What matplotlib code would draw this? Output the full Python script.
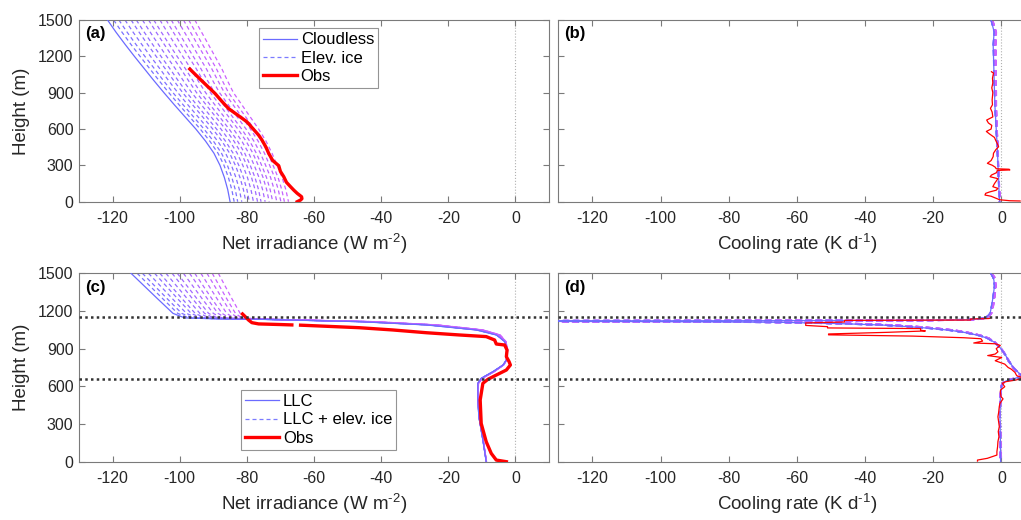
import numpy as np
import matplotlib
matplotlib.use("Agg")
import matplotlib.pyplot as plt
from matplotlib.lines import Line2D

plt.rcParams['font.family'] = ['Liberation Sans', 'DejaVu Sans']
plt.rcParams['axes.unicode_minus'] = False
plt.rcParams['mathtext.fontset'] = 'custom'
plt.rcParams['mathtext.rm'] = 'Liberation Sans'
plt.rcParams['mathtext.it'] = 'Liberation Sans:italic'
plt.rcParams['mathtext.bf'] = 'Liberation Sans:bold'

# ---------------- data ----------------
# panel (a)/(b): cloudless profile heights
h_clr = [1500, 1400, 1300, 1200, 1100, 1000, 900, 800, 700, 600, 500, 400, 300, 200, 100, 0]
net_clr = [-121.5, -119, -116.3, -113.5, -110.6, -107.7, -104.7, -101.6, -98.4, -95.2,
           -92.3, -89.8, -88, -86.7, -85.7, -85]
net_ice_max = [-95.5, -93.5, -91.5, -89.5, -87.5, -85.8, -84, -81.5, -79, -76.5,
               -74.3, -72.5, -71, -69.5, -68.4, -67.6]
cr_clr = [-3.0, -2.1, -2.4, -2.3, -2.2, -2.1, -2.0, -1.9, -1.7, -1.5, -1.3, -1.1, -1.0, -0.8, -0.7, -0.5]
cr_ice_max = [-2.6, -1.5, -1.6, -1.6, -1.6, -1.6, -1.5, -1.5, -1.4, -1.3, -1.1, -1.0, -0.9, -0.7, -0.6, -0.5]

# fraction of the elevated-ice spread for each dashed member
ice_fractions = [0.07, 0.13, 0.2, 0.27, 0.33, 0.4, 0.47, 0.53, 0.6, 0.67, 0.73, 0.8, 0.87, 0.93, 1.0]

obs_a_h = [1095, 1000, 894, 830, 770, 710, 660, 597, 550, 509, 450, 399, 340, 297, 250, 206,
           160, 124, 95, 69, 41, 25, 14, 0]
obs_a = [-97, -93.5, -89.5, -87.5, -85.5, -82.5, -80, -78, -76.5, -75.5, -74.3, -73.5, -72.3,
         -70.5, -70, -69, -68.2, -67, -66, -65, -63.7, -63.6, -64, -65]

obs_b_h = [1073, 1062, 1020, 980, 940, 900, 840, 800, 771, 740, 700, 674, 650, 630, 600, 580,
           560, 530, 509, 480, 454, 430, 400, 372, 340, 317, 300, 285, 272, 268, 262, 258,
           240, 220, 206, 190, 170, 150, 124, 110, 95, 80, 69, 55, 45, 30, 16, 8, 6]
obs_b = [-2.9, -2.3, -2.6, -2.5, -2.8, -2.5, -2.7, -2.6, -3.2, -2.7, -2.5, -4.3, -3.8, -2.8,
         -3.0, -4.4, -3.5, -2.0, -1.7, -1.2, -0.8, -1.6, -2.3, -2.4, -3.0, -4.1, -2.6, -1.8,
         -1.5, 2.3, 2.5, -1.2, -1.4, -2.9, -3.3, -1.0, -1.5, -2.0, -2.5, -1.0, -1.5, -3.5,
         -4.6, -4.8, -3.0, -1.7, -0.5, 2.5, 5.5]

# panel (c)/(d): low-level cloud (LLC)
h_llc = [1500, 1400, 1300, 1181, 1160, 1145, 1138, 1134, 1115, 1089, 1049, 1009, 956, 889,
         810, 770, 717, 664, 624, 500, 358, 173, 0]
net_llc = [-114.5, -110.6, -106.7, -102, -100, -98.5, -90, -76.5, -46.6, -26.6, -11.7, -5.7,
           -3.2, -2.5, -2.7, -3.7, -6.7, -10.2, -11.2, -11.2, -10.9, -9.7, -8.7]
net_llc_ice_max = [-88.5, -86.5, -84.5, -82, -81, -80, -78, -73, -42, -23, -9.5, -4.5, -2.8,
                   -2.3, -2.6, -3.5, -6.3, -9.8, -11, -11.1, -10.8, -9.6, -8.6]

obs_c_h = [1176, 1155, 1128, 1107, 1097, 1092, 1089, np.nan, 1087, 1067, 1049, 1027, 1009,
           996, 969, 937, 929, 889, 836, 797, 770, 730, 690, 656, 624, 491, 305, 159, 66, 13, 0]
obs_c = [-81.3, -80.5, -79.5, -78.5, -76.5, -70, -66.6, np.nan, -64, -46.6, -36.6, -26.6,
         -16.7, -8.7, -6.2, -5.7, -3.2, -2.5, -2.7, -1.9, -1.5, -2.7, -5.7, -8.2, -9.7, -10.5,
         -10.2, -8.7, -7.2, -5.7, -2.7]

h_cr_llc = [1500, 1470, 1447, 1400, 1300, 1250, 1208, 1181, 1165, 1150, 1138, 1130, 1126, 1123,
            1121, 1118, 1115, 1110, 1100, 1088, 1075, 1062, 1046, 1030, 1005, 982, 950, 903,
            850, 800, 744, 715, 690, 675, 660, 645, 630, 615, 597, 500, 358, 200, 0]
cr_llc = [-3.1, -2.5, -2.2, -2.0, -2.5, -2.8, -3.1, -3.3, -3.8, -4.5, -6, -10, -25, -60, -150,
          -150, -100, -65, -48, -35, -27, -21, -15, -11, -6.5, -4, -2, -0.2, 1.2, 2.2, 3.7, 4.8,
          5.8, 5.5, 3.5, 1.5, 0.6, 0.2, 0.0, -0.3, -0.4, -0.3, -0.2]
cr_llc_ice_max = [-2.9, -2.0, -1.8, -1.6, -2.0, -2.3, -2.6, -2.9, -3.4, -4.0, -5.5, -8.5, -20,
                  -50, -150, -150, -95, -60, -44, -32, -24.5, -19, -13.5, -10, -6, -3.6, -1.8,
                  -0.1, 1.2, 2.2, 3.6, 4.7, 5.6, 5.3, 3.4, 1.5, 0.6, 0.2, 0.0, -0.3, -0.4, -0.3,
                  -0.2]

obs_d_h = [1147, 1140, 1136, 1128, 1125, 1112, 1105, 1085, 1075, 1065, 1060, 1047, 1041, 1030,
           1017, 1010, 1000, 987, 979, 960, 945, 939, 926, 900, 875, 857, 845, 830, 804, 777,
           750, 737, 711, 685, 666, 650, 637, 624, 597, 571, 560, 518, 500, 465, 440, 390,
           358, 279, 240, 199, 160, 119, 80, 53, 27, 13, 5]
obs_d = [-3.0, -3.6, -9.0, -9.0, -46.0, -46.0, -57.4, -57.4, -51.0, -51.0, -23.7, -23.7, -22.3,
         -33.5, -50.7, -50.7, -26.0, -11.0, -6.0, -5.5, -8.1, -1.8, -0.3, -1.5, -1.0, -1.8,
         -4.0, 0.1, -1.8, 1.0, 2.0, 2.9, 4.0, 4.5, 6.5, 4.2, 1.3, 0.3, 1.0, -0.2, -0.3, -0.1,
         0.5, -0.4, -0.6, -0.8, -1.0, -0.6, -0.9, -0.7, -1.0, -1.1, -1.3, -1.3, -4.1, -7.0, -7.0]

cloud_top = 1150
cloud_base = 658

xticks = [-120, -100, -80, -60, -40, -20, 0]
yticks = [0, 300, 600, 900, 1200, 1500]

# ---------------- style ----------------
W, H = 1021, 520
fig = plt.figure(figsize=(W / 100, H / 100), dpi=100)

c_blue = '#6b6bff'
c_a = np.array([0.45, 0.45, 1.0])
c_b = np.array([0.80, 0.38, 1.0])
spine_c = '#7a7a7a'
text_c = '#262626'
ice_ls = (0, (3.2, 2.4))


def ax_at(x0, y0, x1, y1):
    return fig.add_axes([x0 / W, 1 - y1 / H, (x1 - x0) / W, (y1 - y0) / H])


def style(ax, xlabel=None, ylabel=True, label=''):
    ax.set_xlim(-130, 10)
    ax.set_ylim(0, 1500)
    ax.set_xticks(xticks)
    ax.set_yticks(yticks)
    ax.tick_params(direction='in', top=True, right=True, length=4, width=0.8,
                   color=spine_c, labelcolor=text_c, labelsize=11.5)
    ax.tick_params(axis='x', pad=7)
    ax.tick_params(axis='y', pad=4)
    for s in ax.spines.values():
        s.set_color(spine_c)
        s.set_linewidth(0.8)
    if ylabel:
        ax.set_ylabel('Height (m)', fontsize=13.5, color=text_c, labelpad=6)
    else:
        ax.set_yticklabels([])
    if xlabel:
        ax.set_xlabel(xlabel, fontsize=13.5, color=text_c, labelpad=4)
    ax.axvline(0, color='#b0b0b0', ls=':', lw=0.8, zorder=0)
    ax.text(0.012, 0.965, label, transform=ax.transAxes, fontsize=12,
            fontweight='bold', va='top', ha='left', color='black')


def fan(ax, base, top, h, lw=0.9):
    base = np.asarray(base, float)
    top = np.asarray(top, float)
    for f in ice_fractions:
        col = (1 - f) * c_a + f * c_b
        ax.plot(base + f * (top - base), h, color=col, ls=ice_ls, lw=lw, zorder=2)


xlab_net = r'Net irradiance (W m$^{\text{-2}}$)'
xlab_cr = r'Cooling rate (K d$^{\text{-1}}$)'

# (a)
ax_a = ax_at(79, 20, 549, 201.7)
fan(ax_a, net_clr, net_ice_max, h_clr)
ax_a.plot(net_clr, h_clr, color=c_blue, lw=0.9, zorder=3)
ax_a.plot(obs_a, obs_a_h, color='red', lw=2.4, zorder=4)
style(ax_a, xlab_net, True, '(a)')
handles_a = [Line2D([], [], color=c_blue, lw=0.9),
             Line2D([], [], color='#7b7bff', lw=0.9, ls=ice_ls),
             Line2D([], [], color='red', lw=2.4)]
leg = ax_a.legend(handles_a, ['Cloudless', 'Elev. ice', 'Obs'], loc='upper left',
                  bbox_to_anchor=(0.383, 0.955), fontsize=12, frameon=True, fancybox=False,
                  edgecolor=spine_c, borderaxespad=0, handlelength=2.0, handletextpad=0.25,
                  labelspacing=0.2, borderpad=0.25)
leg.get_frame().set_linewidth(0.8)

# (b)
ax_b = ax_at(558.3, 20, 558.3 + 140 * 3.408, 201.7)
fan(ax_b, cr_clr, cr_ice_max, h_clr, lw=1.3)
ax_b.plot(cr_clr, h_clr, color=c_blue, lw=0.9, zorder=3)
ax_b.plot(obs_b, obs_b_h, color='red', lw=0.9, zorder=4)
style(ax_b, xlab_cr, False, '(b)')

# (c)
ax_c = ax_at(79, 273.3, 549, 461.7)
fan(ax_c, net_llc, net_llc_ice_max, h_llc)
ax_c.plot(net_llc, h_llc, color=c_blue, lw=0.9, zorder=3)
ax_c.plot(obs_c, obs_c_h, color='red', lw=2.4, zorder=4)
for hh in (cloud_top, cloud_base):
    ax_c.axhline(hh, color='#333333', ls=(0, (1, 1.3)), lw=1.8, zorder=5)
style(ax_c, xlab_net, True, '(c)')
handles_c = [Line2D([], [], color=c_blue, lw=0.9),
             Line2D([], [], color='#7b7bff', lw=0.9, ls=ice_ls),
             Line2D([], [], color='red', lw=2.4)]
leg = ax_c.legend(handles_c, ['LLC', 'LLC + elev. ice', 'Obs'], loc='upper left',
                  bbox_to_anchor=(0.345, 0.381), fontsize=12, frameon=True, fancybox=False,
                  edgecolor=spine_c, borderaxespad=0, handlelength=2.0, handletextpad=0.25,
                  labelspacing=0.2, borderpad=0.25)
leg.get_frame().set_linewidth(0.8)

# (d)
ax_d = ax_at(558.3, 273.3, 558.3 + 140 * 3.408, 461.7)
fan(ax_d, cr_llc, cr_llc_ice_max, h_cr_llc, lw=1.3)
ax_d.plot(cr_llc, h_cr_llc, color=c_blue, lw=0.9, zorder=3)
ax_d.plot(obs_d, obs_d_h, color='red', lw=0.9, zorder=4)
for hh in (cloud_top, cloud_base):
    ax_d.axhline(hh, color='#333333', ls=(0, (1, 1.3)), lw=1.8, zorder=5)
style(ax_d, xlab_cr, False, '(d)')

fig.savefig('out.png', dpi=100)
